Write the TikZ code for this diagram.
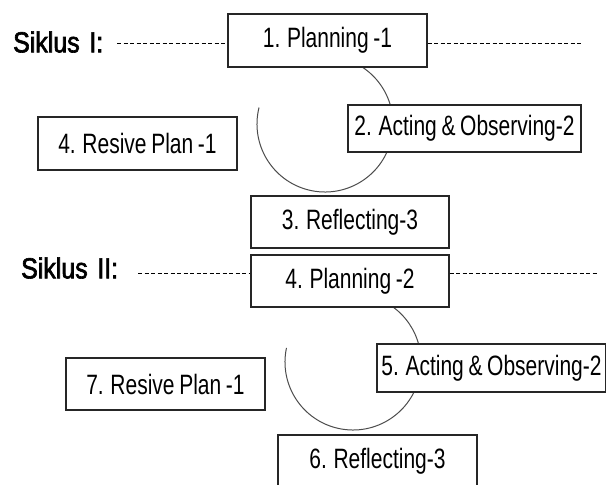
\documentclass[tikz,border=0pt]{standalone}
\usepackage{fontspec}
\setmainfont{Liberation Sans}
\newfontfamily\boxfont[FakeStretch=0.75,WordSpace=0.8]{Liberation Sans}
\newfontfamily\labfont[FakeStretch=0.86,FakeBold=2.2]{Liberation Sans}
\begin{document}
\begin{tikzpicture}[x=1pt,y=-1pt,
  stepbox/.style={draw=black!85,line width=1.1pt,fill=white,inner sep=0pt,
    font=\boxfont\fontsize{28}{32}\selectfont},
  sikluslabel/.style={inner sep=0pt,anchor=west,font=\labfont\fontsize{29}{33}\selectfont},
  dashline/.style={line width=0.8pt,dash pattern=on 4pt off 2.5pt},
  cyclearc/.style={draw=black!70,line width=1pt}]
\useasboundingbox (0,0) rectangle (606,485);
% cycle arcs (drawn first, boxes cover them)
\draw[cyclearc] (325,124) ++(194:68) arc[start angle=194,end angle=-70,radius=68];
\draw[cyclearc] (353,362) ++(192:68) arc[start angle=192,end angle=-70,radius=68];
% cycle I
\node[sikluslabel] (s1) at (13,42) {Siklus\,\,I:};
\node[stepbox,minimum width=199pt,minimum height=53pt] (b1) at (327.5,40.5) {1. Planning -1};
\node[stepbox,minimum width=233pt,minimum height=47pt] (b2) at (464.5,128.5) {2. Acting \& Observing-2};
\node[stepbox,minimum width=199pt,minimum height=53pt] (b4r) at (137.5,143.5) {4. Resive Plan -1};
\node[stepbox,minimum width=198pt,minimum height=52pt] (b3) at (350,222) {3. Reflecting-3};
\coordinate (e1) at (583,43);
\draw[dashline] (117,43) -- (b1.west |- 0,43);
\draw[dashline] (b1.east |- 0,43) -- (e1);
% cycle II
\node[sikluslabel] (s2) at (21,268) {Siklus\,\,II:};
\node[stepbox,minimum width=198pt,minimum height=52pt] (b4p) at (350,281) {4. Planning -2};
\node[stepbox,minimum width=229pt,minimum height=48pt] (b5) at (491.5,368) {5. Acting \& Observing-2};
\node[stepbox,minimum width=199pt,minimum height=52pt] (b7) at (165.5,384) {7. Resive Plan -1};
\node[stepbox,minimum width=199pt,minimum height=52pt] (b6) at (377.5,461) {6. Reflecting-3};
\coordinate (e2) at (598,273);
\draw[dashline] (138,273) -- (b4p.west |- 0,273);
\draw[dashline] (b4p.east |- 0,273) -- (e2);
\end{tikzpicture}
\end{document}
